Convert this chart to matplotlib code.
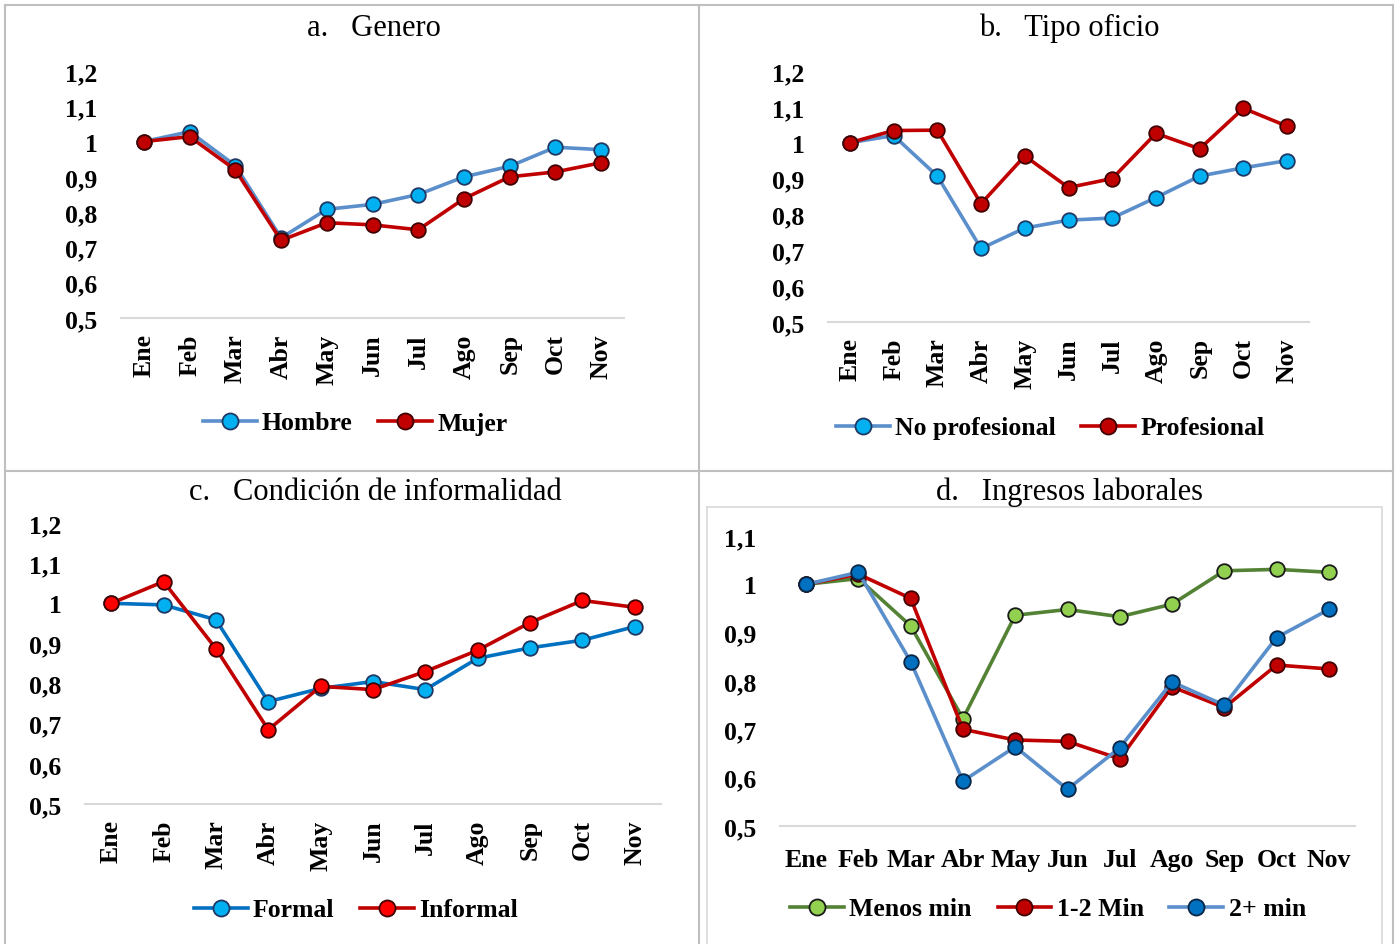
import matplotlib
matplotlib.use("Agg")
import matplotlib.pyplot as plt
from matplotlib.lines import Line2D

plt.rcParams['font.family'] = ['Liberation Serif', 'DejaVu Serif']

W, H = 1395, 945

meses = ["Ene", "Feb", "Mar", "Abr", "May", "Jun", "Jul", "Ago", "Sep", "Oct", "Nov"]

hombre = [1.0, 1.028, 0.932, 0.727, 0.808, 0.822, 0.85, 0.90, 0.93, 0.984, 0.977]
mujer = [1.0, 1.014, 0.92, 0.72, 0.77, 0.764, 0.75, 0.838, 0.90, 0.914, 0.94]

no_profesional = [1.0, 1.02, 0.907, 0.705, 0.762, 0.784, 0.79, 0.847, 0.907, 0.93, 0.95]
profesional = [1.0, 1.034, 1.035, 0.83, 0.963, 0.875, 0.90, 1.026, 0.983, 1.096, 1.046]

formal = [1.0, 0.996, 0.959, 0.755, 0.788, 0.805, 0.785, 0.863, 0.889, 0.908, 0.942]
informal = [1.0, 1.054, 0.887, 0.685, 0.793, 0.785, 0.83, 0.883, 0.952, 1.007, 0.99]

menos_min = [1.0, 1.012, 0.914, 0.722, 0.936, 0.948, 0.933, 0.959, 1.028, 1.031, 1.025]
min_1_2 = [1.0, 1.021, 0.971, 0.70, 0.678, 0.675, 0.639, 0.788, 0.745, 0.833, 0.825]
min_2_mas = [1.0, 1.025, 0.84, 0.593, 0.664, 0.576, 0.662, 0.798, 0.75, 0.89, 0.948]

yt_abc = [0.5, 0.6, 0.7, 0.8, 0.9, 1.0, 1.1, 1.2]
yl_abc = ["0,5", "0,6", "0,7", "0,8", "0,9", "1", "1,1", "1,2"]
yt_d = [0.5, 0.6, 0.7, 0.8, 0.9, 1.0, 1.1]
yl_d = ["0,5", "0,6", "0,7", "0,8", "0,9", "1", "1,1"]

FS = 18.5


def px_axes(x0, y0, x1, y1):
    return fig.add_axes([x0 / W, 1 - y1 / H, (x1 - x0) / W, (y1 - y0) / H])


def fig_line(xs, ys, color, lw):
    fig.add_artist(Line2D([x / W for x in xs], [1 - y / H for y in ys],
                          transform=fig.transFigure, color=color, lw=lw))


def panel(ax, series, yt, yl, rot, xpad, leg_xy, title, title_xy):
    x = range(len(meses))
    for vals, lab, lc, fc, ec in series:
        ax.plot(x, vals, '-o', color=lc, lw=2.6, markersize=10.5,
                markerfacecolor=fc, markeredgecolor=ec, markeredgewidth=1.3,
                label=lab)
    ax.set_xlim(-0.5, len(meses) - 0.5)
    ax.set_ylim(yt[0], yt[-1])
    ax.set_yticks(yt)
    ax.set_yticklabels(yl, fontsize=FS, fontweight='bold')
    ax.set_xticks(list(x))
    ax.set_xticklabels(meses, fontsize=FS, fontweight='bold', rotation=rot)
    ax.tick_params(axis='y', length=0, pad=17)
    ax.tick_params(axis='x', length=0, pad=xpad)
    for s in ['top', 'right', 'left']:
        ax.spines[s].set_visible(False)
    ax.spines['bottom'].set_color('#D9D9D9')
    ax.spines['bottom'].set_linewidth(1.5)
    ax.patch.set_visible(False)
    ax.legend(loc='center', bbox_to_anchor=(leg_xy[0] / W, 1 - leg_xy[1] / H),
              bbox_transform=fig.transFigure, ncol=len(series), frameon=False,
              prop={'size': FS, 'weight': 'bold'}, handlelength=2.1,
              handletextpad=0.2, columnspacing=1.0, markerscale=1.1)
    fig.text(title_xy[0] / W, 1 - title_xy[1] / H, title, fontsize=22,
             ha='center', va='center')


fig = plt.figure(figsize=(W / 100, H / 100), dpi=100)

# bordes de los paneles
g = '#BFBFBF'
fig_line([5, 1393], [6, 6], g, 1.5)
fig_line([5, 5], [6, 945], g, 1.5)
fig_line([1393, 1393], [6, 945], g, 1.5)
fig_line([699, 699], [6, 945], g, 1.5)
fig_line([5, 1393], [472, 472], g, 1.5)
# recuadro interno del panel d
fig_line([707, 1382, 1382], [508, 508, 945], '#D9D9D9', 1.2)
fig_line([707, 707], [508, 945], '#D9D9D9', 1.2)

axa = px_axes(121, 72, 624, 319)
panel(axa, [(hombre, "Hombre", '#5B8FCB', '#00B0F0', '#1F3864'),
            (mujer, "Mujer", '#C00000', '#C00000', '#400000')],
      yt_abc, yl_abc, 90, 11, (355, 424), "a.   Genero", (374, 28))

axb = px_axes(828, 72, 1309, 323)
panel(axb, [(no_profesional, "No profesional", '#5B8FCB', '#00B0F0', '#1F3864'),
            (profesional, "Profesional", '#C00000', '#C00000', '#400000')],
      yt_abc, yl_abc, 90, 11, (1050, 429), "b.   Tipo oficio", (1069, 28))

axc = px_axes(85, 524, 661, 805)
panel(axc, [(formal, "Formal", '#0070C0', '#00B0F0', '#1F3864'),
            (informal, "Informal", '#C00000', '#FF0000', '#400000')],
      yt_abc, yl_abc, 90, 11, (356, 911), "c.   Condición de informalidad", (375, 492))

axd = px_axes(780, 537, 1355, 827)
panel(axd, [(menos_min, "Menos min", '#548235', '#92D050', '#1A1A1A'),
            (min_1_2, "1-2 Min", '#C00000', '#C00000', '#400000'),
            (min_2_mas, "2+ min", '#5B8FCB', '#0070C0', '#0B2545')],
      yt_d, yl_d, 0, 16, (1048, 910), "d.   Ingresos laborales", (1069, 492))

fig.savefig("out.png", dpi=100)
